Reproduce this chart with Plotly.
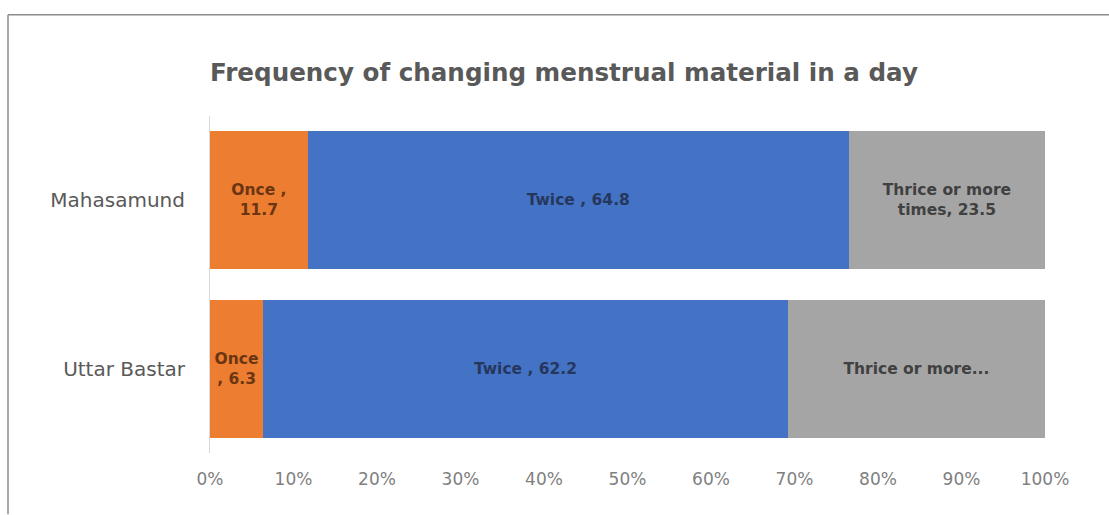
import plotly.graph_objects as go

categories = ["Mahasamund", "Uttar Bastar"]
once_vals = [11.7, 6.3]
twice_vals = [64.8, 62.2]
thrice_vals = [23.5, 30.5]
once_text = ["Once ,<br>11.7", "Once<br>, 6.3"]
twice_text = ["Twice , 64.8", "Twice , 62.2"]
thrice_text = ["Thrice or more<br>times, 23.5", "Thrice or more..."]
tick_vals = [0, 10, 20, 30, 40, 50, 60, 70, 80, 90, 100]
tick_text = ["0%", "10%", "20%", "30%", "40%", "50%", "60%", "70%", "80%", "90%", "100%"]

FONT = "DejaVu Sans"

fig = go.Figure()
series = [
    ("Once", once_vals, once_text, "#ED7D31", "#6B3512"),
    ("Twice", twice_vals, twice_text, "#4472C4", "#26375E"),
    ("Thrice or more times", thrice_vals, thrice_text, "#A5A5A5", "#404040"),
]
for name, vals, txt, col, tcol in series:
    fig.add_trace(go.Bar(
        y=categories, x=vals, name=name, orientation="h",
        marker=dict(color=col, line=dict(width=0)),
        text=txt, textposition="inside", insidetextanchor="middle",
        textangle=0, constraintext="none",
        textfont=dict(family=FONT, size=15.5, color=tcol),
        texttemplate="<b>%{text}</b>",
    ))

L, R, T, B = 210, 64, 115.5, 61.5
pw = 1109 - L - R
ph = 515 - T - B

def px_x(px):
    return (px - L) / pw

def px_y(py):
    return (515 - B - py) / ph

fig.update_layout(
    barmode="stack", barnorm="percent", bargap=0.183,
    width=1109, height=515,
    margin=dict(l=L, r=R, t=T, b=B, pad=0),
    paper_bgcolor="white", plot_bgcolor="white",
    showlegend=False,
    title=dict(text="<b>Frequency of changing menstrual material in a day</b>",
               x=564 / 1109, xref="container", xanchor="center",
               y=1 - 72 / 515, yref="container", yanchor="middle",
               font=dict(family=FONT, size=24.6, color="#595959")),
    xaxis=dict(range=[0, 100], tickvals=tick_vals, ticktext=tick_text,
               showgrid=False, zeroline=False, showline=False, ticks="",
               ticklabelstandoff=14,
               tickfont=dict(family=FONT, size=17, color="#808080")),
    yaxis=dict(autorange="reversed", showgrid=False, zeroline=False,
               showline=True, linecolor="#D9D9D9", linewidth=1, ticks="",
               ticklabelstandoff=20,
               tickfont=dict(family=FONT, size=20, color="#595959")),
    shapes=[
        dict(type="line", xref="paper", yref="paper",
             x0=px_x(8), x1=px_x(1109), y0=px_y(14), y1=px_y(14),
             line=dict(color="#8C8C8C", width=1.5)),
        dict(type="line", xref="paper", yref="paper",
             x0=px_x(8), x1=px_x(8), y0=px_y(14), y1=px_y(515),
             line=dict(color="#8C8C8C", width=1.5)),
    ],
)

fig.write_html("out.html")
